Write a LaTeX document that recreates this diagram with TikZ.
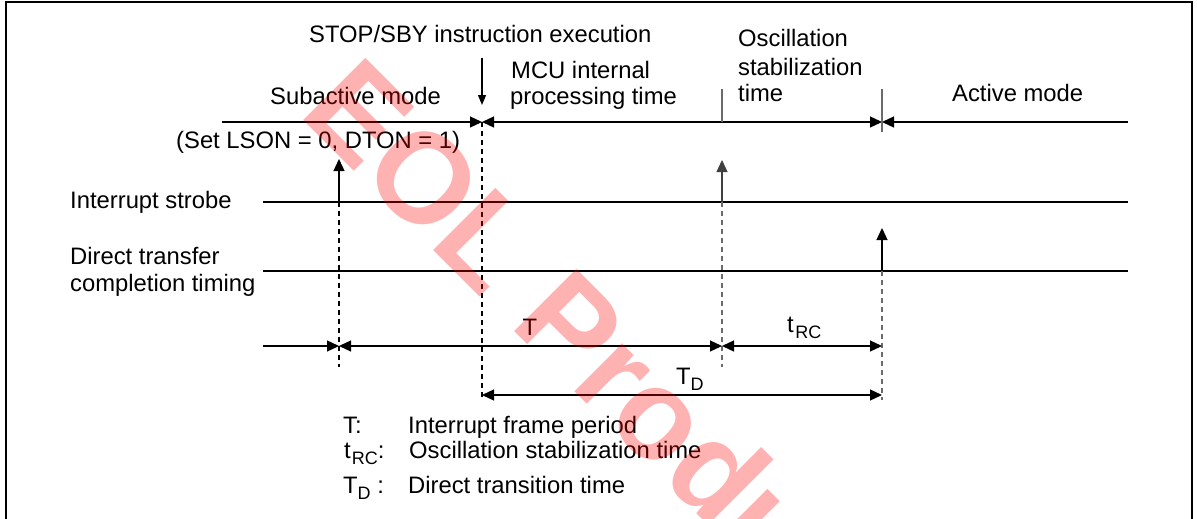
\documentclass[tikz,border=0pt]{standalone}
\usepackage{fontspec}
\setmainfont{Liberation Sans}
\usetikzlibrary{arrows.meta}
\definecolor{tickgray}{gray}{0.42}
\newcommand\lowsub[1]{\raisebox{-6.5pt}{\fontsize{18}{18}\selectfont #1}}
\begin{document}
\begin{tikzpicture}[x=1pt,y=-1pt,
  lbl/.style={anchor=base west, inner sep=0pt, font=\fontsize{23.8}{28}\selectfont},
  wire/.style={line width=1.3pt},
  endtip/.style={wire,-{Triangle[length=12pt,width=11pt]}},
  bothtips/.style={wire,{Triangle[length=12pt,width=11pt]}-{Triangle[length=12pt,width=11pt]}},
  smalltip/.style={wire,-{Triangle[length=10pt,width=8pt]}},
  guide/.style={line width=1.1pt, dash pattern=on 5pt off 4pt},
  tick/.style={line width=1.3pt, tickgray}]
\useasboundingbox (0,0) rectangle (1197,519);

% frame (open at the bottom)
\coordinate (fBL) at (6,530);
\coordinate (fTL) at (6,2);
\coordinate (fTR) at (1192,2);
\coordinate (fBR) at (1192,530);
\draw[line width=1.6pt] (fBL) -- (fTL) -- (fTR) -- (fBR);

% texts
\node[lbl] (stop) at (309,43) {STOP/SBY instruction execution};
\node[lbl] (sub) at (270,104) {Subactive mode};
\node[lbl] (mcu1) at (511,78) {MCU internal};
\node[lbl] (mcu2) at (510,104) {processing time};
\node[lbl] (osc1) at (738,47) {Oscillation};
\node[lbl] (osc2) at (738,75) {stabilization};
\node[lbl] (osc3) at (738,102) {time};
\node[lbl] (act) at (952,102) {Active mode};
\node[lbl] (set) at (176,148) {(Set LSON = 0, DTON = 1)};
\node[lbl] (istr) at (70,208) {Interrupt strobe};
\node[lbl] (dtc1) at (70,264) {Direct transfer};
\node[lbl] (dtc2) at (70,291) {completion timing};
\node[lbl, anchor=base] (lT) at (530,335) {T};
\node[lbl] (ltrc) at (787,332) {t\kern1.5pt\lowsub{RC}};
\node[lbl] (lTD) at (676,384) {T\lowsub{D}};
\node[lbl] (k1) at (343,433) {T:};
\node[lbl] (v1) at (408,433) {Interrupt frame period};
\node[lbl] (k2) at (344,458) {t\kern1pt\lowsub{RC}:};
\node[lbl] (v2) at (409,458) {Oscillation stabilization time};
\node[lbl] (k3) at (343,493) {T\lowsub{D} :};
\node[lbl] (v3) at (408,493) {Direct transition time};

% mode line
\coordinate (mL) at (222,122);
\coordinate (mB) at (482,122);
\coordinate (mC) at (722,122);
\coordinate (mD) at (882,122);
\coordinate (mR) at (1128,122);
\draw[endtip] (mL) -- (mB);
\draw[bothtips] (mB) -- (mD);
\draw[endtip] (mR) -- (mD);
\coordinate (tC) at (722,89);
\coordinate (tD) at (882,89);
\coordinate (tDb) at (882,132);
\draw[tick] (tC) -- (mC);
\draw[tick] (tD) -- (tDb);

% STOP/SBY pointer
\coordinate (sA) at (482,58);
\coordinate (sB) at (482,105);
\draw[smalltip] (sA) -- (sB);

% signal lines
\coordinate (iL) at (263,202);
\coordinate (iR) at (1128,202);
\coordinate (dL) at (263,271);
\coordinate (dR) at (1128,271);
\draw[wire] (iL) -- (iR);
\draw[wire] (dL) -- (dR);

% strobes
\coordinate (a1) at (339,202);
\coordinate (a1t) at (339,159);
\coordinate (a2) at (722,202);
\coordinate (a2t) at (722,160);
\coordinate (a3) at (882,271);
\coordinate (a3t) at (882,228);
\draw[endtip] (a1) -- (a1t);
\draw[endtip, tickgray!60!black] (a2) -- (a2t);
\draw[endtip] (a3) -- (a3t);

% guide lines
\coordinate (g1) at (339,367);
\coordinate (g2) at (482,400);
\coordinate (g3) at (722,367);
\coordinate (g4) at (882,400);
\draw[guide] (a1) -- (g1);
\draw[guide] (mB) -- (g2);
\draw[guide, tickgray] (a2) -- (g3);
\draw[guide, tickgray] (a3) -- (g4);

% period dimensions
\coordinate (p0) at (263,346);
\coordinate (p1) at (339,346);
\coordinate (p2) at (722,346);
\coordinate (p3) at (882,346);
\draw[endtip] (p0) -- (p1);
\draw[bothtips] (p1) -- (p2);
\draw[bothtips] (p2) -- (p3);
\coordinate (q1) at (482,395);
\coordinate (q2) at (882,395);
\draw[bothtips] (q1) -- (q2);

% watermark
\begin{scope}
\clip (0,0) rectangle (1197,519);
\node[anchor=base west, inner sep=0pt, rotate=-45, text=red, text opacity=0.3,
      font=\bfseries\fontsize{128}{128}\selectfont] (wm) at (297,114) {EOL Product};
\end{scope}
\end{tikzpicture}
\end{document}
